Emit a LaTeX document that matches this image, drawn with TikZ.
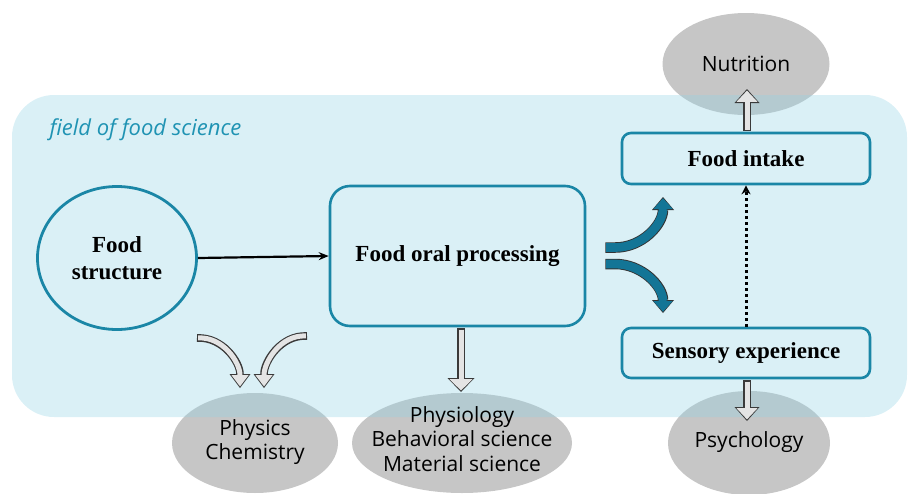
\documentclass[tikz,border=0pt]{standalone}
\usepackage{fontspec}
\setmainfont{Liberation Serif}
\newfontfamily\handfont{Open Sans}
\usetikzlibrary{arrows.meta,positioning,calc,shapes.geometric}
\definecolor{FieldTint}{HTML}{95D4E5}
\definecolor{Teal}{HTML}{1A86A6}
\definecolor{TealArrow}{HTML}{137596}
\definecolor{FieldText}{HTML}{1F93B3}
\definecolor{EllGray}{HTML}{C6C6C6}
\definecolor{HollowEdge}{HTML}{3A3A3A}
\definecolor{HollowFill}{HTML}{E4E4E4}

% hollow gray arrow: [head width]{path}
\newcommand{\hollowarrow}[2][26]{%
  \draw[line width=7.6pt,HollowEdge,-{Triangle[length=14pt,width=#1pt,line width=0pt]}] #2;
  \draw[line width=5pt,HollowFill,shorten >=1.6pt,shorten <=1.2pt,
    -{Triangle[length=11.2pt,width=\the\numexpr#1-4\relax pt,line width=0pt]}] #2;}
% fat teal arrow
\newcommand{\fatarrow}[1]{%
  \draw[line width=10.5pt,black!80,-{Triangle[length=13pt,width=22pt,line width=0pt]}] #1;
  \draw[line width=8.7pt,TealArrow,shorten >=1.2pt,shorten <=0.9pt,
    -{Triangle[length=10.8pt,width=19.4pt,line width=0pt]}] #1;}

\begin{document}
\begin{tikzpicture}[x=1pt,y=-1pt,
  boldtext/.style={font=\fontsize{23}{27}\selectfont\bfseries,text=black,align=center},
  handtext/.style={font=\handfont\fontsize{21}{24.5}\selectfont,text=black,align=center},
  procbox/.style={draw=Teal,line width=2.6pt,rectangle,boldtext},
  discipline/.style={ellipse,fill=EllGray,inner sep=0pt}]
\useasboundingbox (0,0) rectangle (908,493);

% neighbouring disciplines (under the field)
\node[discipline,minimum width=167,minimum height=102] (nutr) at (746,64) {};
\node[discipline,minimum width=166,minimum height=100] (physchem) at (255,443) {};
\node[discipline,minimum width=220,minimum height=100] (physio) at (462,443) {};
\node[discipline,minimum width=162,minimum height=104] (psych) at (749,443) {};

% field of food science
\fill[FieldTint,fill opacity=0.35,rounded corners=42] (12,95) rectangle (907,417);
\node[anchor=west,font=\handfont\itshape\fontsize{22}{24}\selectfont,text=FieldText] (fieldlbl) at (46,130) {field of food science};

\node[handtext] (nutrlbl) at (nutr) {Nutrition};
\node[handtext] (physchemlbl) at (255,442) {Physics\\Chemistry};
\node[handtext] (physiolbl) at (462,439) {Physiology\\Behavioral science\\Material science};
\node[handtext] (psychlbl) at (749,442) {Psychology};

% main nodes
\node[procbox,ellipse,line width=2.8pt,minimum width=159,minimum height=143] (struct) at (117,258) {Food\\structure};
\node[procbox,rounded corners=20,minimum width=255,minimum height=140] (fop) at (457.5,256) {Food oral processing};
\node[procbox,rounded corners=9,minimum width=248,minimum height=51] (intake) at (746,158.5) {Food intake};
\node[procbox,rounded corners=9,minimum width=248,minimum height=50] (sensory) at (746,353) {Sensory experience};

% hollow arrows towards the disciplines
\hollowarrow[27]{($(fop.south)+(3.5,1)$) -- (461,392)}
\hollowarrow[25]{($(intake.north)+(1,-1)$) -- (747,89)}
\hollowarrow[25]{($(sensory.south)+(1,1)$) -- (747,421)}
\hollowarrow[21]{(197,338) to[out=3,in=90] (240,388)}
\hollowarrow[21]{(307,336) to[out=177,in=90] (264,388)}

\draw[line width=2.2pt,-{Stealth[length=10pt,width=8pt]}] (struct.east) -- (fop.west);
\draw[line width=3pt,dash pattern=on 3pt off 3pt,-{Stealth[length=9pt,width=9pt]}] (sensory.north) -- (intake.south);

% split into intake and sensory experience
\coordinate (upstart) at ($(fop.east)+(19,-8.5)$);
\coordinate (downstart) at ($(fop.east)+(19,8)$);
\fatarrow{(upstart) -- ++(10,0) to[out=0,in=-90] (663,197)}
\fatarrow{(downstart) -- ++(10,0) to[out=0,in=90] (663,313)}
\end{tikzpicture}
\end{document}
